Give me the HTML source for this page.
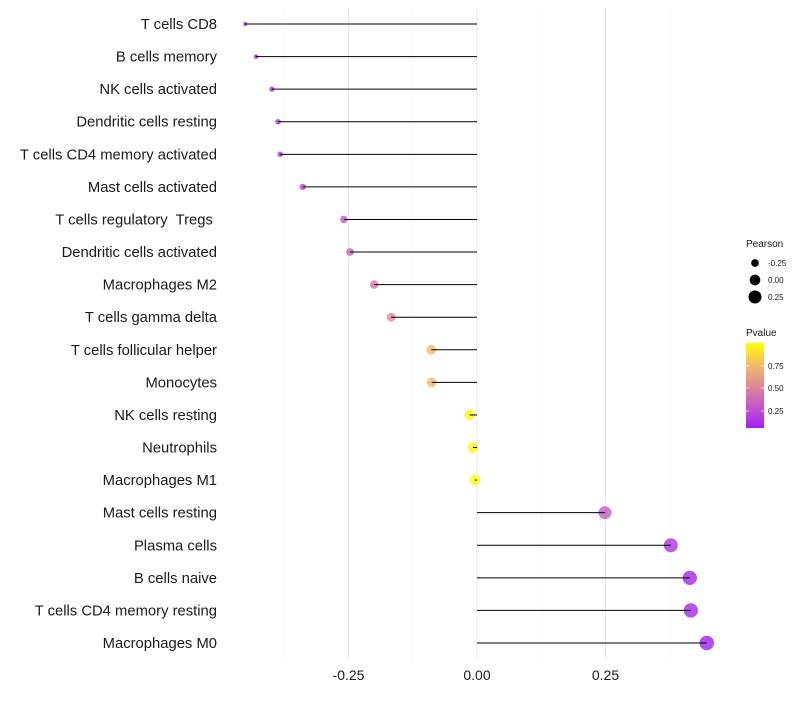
<!DOCTYPE html>
<html><head><meta charset="utf-8"><style>
body{margin:0;background:#fff;font-family:"Liberation Sans",sans-serif}
text{white-space:pre}
</style></head><body>
<svg id="c" width="800" height="700"></svg>
<script>
const categories=["T cells CD8","B cells memory","NK cells activated","Dendritic cells resting","T cells CD4 memory activated","Mast cells activated","T cells regulatory  Tregs ","Dendritic cells activated","Macrophages M2","T cells gamma delta","T cells follicular helper","Monocytes","NK cells resting","Neutrophils","Macrophages M1","Mast cells resting","Plasma cells","B cells naive","T cells CD4 memory resting","Macrophages M0"];
const pearson=[-0.451,-0.430,-0.399,-0.387,-0.383,-0.339,-0.259,-0.247,-0.200,-0.167,-0.089,-0.088,-0.014,-0.008,-0.004,0.249,0.377,0.414,0.416,0.447];
const pvalue=[0.05,0.07,0.10,0.12,0.12,0.18,0.30,0.33,0.43,0.52,0.75,0.75,0.97,0.98,0.99,0.30,0.13,0.08,0.08,0.05];
const xTicks=[-0.25,0,0.25];
const xTickLabels=["-0.25","0.00","0.25"];
const xMinor=[-0.375,-0.125,0.125,0.375];
const NS="http://www.w3.org/2000/svg";
const svg=document.getElementById('c');
function el(t,a,p){const e=document.createElementNS(NS,t);for(const k in a)e.setAttribute(k,a[k]);(p||svg).appendChild(e);return e;}
const x=v=>477+v*514;
const y=i=>24+i*(643-24)/(categories.length-1);
const cStops=[[0.05,[160,32,240]],[0.25,[190,80,210]],[0.5,[222,130,155]],[0.75,[242,185,105]],[1,[255,255,0]]];
function col(p){p=Math.max(0.05,Math.min(1,p));for(let k=1;k<cStops.length;k++){if(p<=cStops[k][0]){const [a,ca]=cStops[k-1],[b,cb]=cStops[k];const t=(p-a)/(b-a);return `rgb(${ca.map((v,j)=>Math.round(v+(cb[j]-v)*t)).join(',')})`;}}return 'rgb(255,255,0)';}
const rad=v=>Math.sqrt(Math.max(1,4+54.6*(v+0.45)));
xMinor.forEach(v=>{const g=el('line',{x1:x(v),x2:x(v),y1:8,y2:660,stroke:'#f2f2f2','stroke-width':0.6});

});
xTicks.forEach((v,i)=>{const g=el('line',{x1:x(v),x2:x(v),y1:8,y2:660,stroke:'#ebebeb','stroke-width':1.1});


const t=el('text',{x:x(v),y:680,'text-anchor':'middle','font-size':14,fill:'#1a1a1a'});t.textContent=xTickLabels[i];

});
categories.forEach((c,i)=>{
const t=el('text',{x:217,y:y(i)+5,'text-anchor':'end','font-size':14.8,fill:'#1a1a1a'});t.textContent=c;


const d=el('circle',{cx:x(pearson[i]),cy:y(i),r:rad(pearson[i]),fill:col(pvalue[i]),'fill-opacity':0.8});


const l=el('line',{x1:x(0),x2:x(pearson[i]),y1:y(i),y2:y(i),stroke:'#000','stroke-width':1});


});
const lt=el('text',{x:746,y:247,'font-size':10,fill:'#1a1a1a'});lt.textContent='Pearson';

[[-0.25,263],[0,280],[0.25,297]].forEach(([v,yy],i)=>{
const c=el('circle',{cx:755,cy:yy,r:rad(v),fill:'#000'});

const t=el('text',{x:768,y:yy+3,'font-size':8,fill:'#1a1a1a'});t.textContent=["-0.25","0.00","0.25"][i];
});
const pt=el('text',{x:746,y:336,'font-size':10,fill:'#1a1a1a'});pt.textContent='Pvalue';

const defs=el('defs',{});const lg=el('linearGradient',{id:'g',x1:0,y1:1,x2:0,y2:0},defs);
cStops.forEach(([p,c])=>el('stop',{offset:(p-0.05)/0.95,'stop-color':`rgb(${c.join(',')})`},lg));
const cb=el('rect',{x:746,y:343,width:18,height:85,fill:'url(#g)'});

[[0.75,366],[0.5,388],[0.25,411]].forEach(([v,yy])=>{
el('line',{x1:746,x2:749,y1:yy,y2:yy,stroke:'#fff','stroke-width':0.6});el('line',{x1:761,x2:764,y1:yy,y2:yy,stroke:'#fff','stroke-width':0.6});
const t=el('text',{x:768,y:yy+3,'font-size':8,fill:'#1a1a1a'});t.textContent=v.toFixed(2);
});
</script>
</body></html>
